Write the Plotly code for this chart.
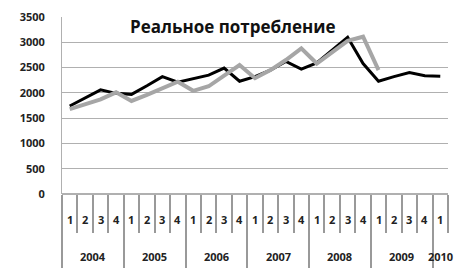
import plotly.graph_objects as go

years = ["2004", "2005", "2006", "2007", "2008", "2009", "2010"]
quarters_per_year = [4, 4, 4, 4, 4, 4, 1]
quarter_labels = ["1", "2", "3", "4"]

black_values = [1740, 1900, 2060, 1990, 1970, 2140, 2320, 2210, 2280, 2350,
                2490, 2230, 2320, 2450, 2620, 2470, 2590, 2850, 3100, 2580,
                2230, 2320, 2400, 2340, 2330]
gray_values = [1680, 1770, 1870, 2010, 1840, 1960, 2100, 2220, 2040, 2130,
               2340, 2550, 2290, 2450, 2650, 2880, 2580, 2800, 3030, 3110,
               2450, None, None, None, None]

title_text = "Реальное потребление"
y_ticks = [0, 500, 1000, 1500, 2000, 2500, 3000, 3500]

# category index positions built from the year/quarter structure
q_text = []
year_centers = []
year_starts = []
pos = 0
for y, n in zip(years, quarters_per_year):
    year_starts.append(pos - 0.5)
    year_centers.append(pos + (n - 1) / 2)
    q_text.extend(quarter_labels[:n])
    pos += n
n_cat = pos
x_idx = list(range(n_cat))
boundaries = [i - 0.5 for i in range(n_cat + 1)]
xr = [-0.5, n_cat - 0.5]

grid_col = "#b0b0b0"
sep_col = "#999999"
font_family = "Open Sans, DejaVu Sans, sans-serif"
tick_font = dict(family=font_family, size=11, color="#222222", weight="bold")

plot_h = 177.0
quarter_label_y = -25 / plot_h
year_label_y = -62 / plot_h

fig = go.Figure()
fig.add_trace(go.Scatter(x=x_idx, y=black_values, mode="lines",
                         line=dict(color="#000000", width=3), name="black",
                         xaxis="x"))
fig.add_trace(go.Scatter(x=x_idx, y=gray_values, mode="lines",
                         line=dict(color="#a6a6a6", width=4), name="gray",
                         connectgaps=False, xaxis="x2"))

annotations = [dict(text="<b>" + title_text + "</b>", xref="paper",
                    yref="paper", x=0.443, y=0.949, xanchor="center",
                    yanchor="middle", showarrow=False,
                    font=dict(family=font_family, size=17, color="#111111"))]
for qt, xc in zip(q_text, x_idx):
    annotations.append(dict(text=qt, xref="x", yref="paper", x=xc,
                            y=quarter_label_y, xanchor="center",
                            yanchor="middle", showarrow=False,
                            font=tick_font))
for yl, xc in zip(years, year_centers):
    annotations.append(dict(text=yl, xref="x", yref="paper", x=xc,
                            y=year_label_y, xanchor="center",
                            yanchor="middle", showarrow=False,
                            font=tick_font))

fig.update_layout(
    width=458, height=268,
    margin=dict(l=54, r=18, t=9, b=82),
    paper_bgcolor="white", plot_bgcolor="white",
    showlegend=False,
    font=dict(family=font_family, size=11, color="#222222"),
    xaxis=dict(range=xr, tickvals=boundaries,
               ticktext=[""] * len(boundaries), ticks="outside", ticklen=38,
               tickcolor=sep_col, tickwidth=1.5, showticklabels=True,
               showgrid=False, zeroline=False, showline=False,
               automargin=False),
    xaxis2=dict(range=xr, overlaying="x", anchor="y", side="bottom",
                tickvals=year_starts, ticktext=[""] * len(year_starts),
                ticks="outside", ticklen=73, tickcolor=sep_col, tickwidth=1.5,
                showgrid=False, zeroline=False, showline=False,
                automargin=False),
    yaxis=dict(range=[0, 3500], tickvals=y_ticks, showgrid=True,
               gridcolor=grid_col, gridwidth=1, showline=True,
               linecolor=grid_col, linewidth=1, zeroline=True,
               zerolinecolor=grid_col, ticks="", ticklabelstandoff=14,
               tickfont=tick_font, automargin=False),
    annotations=annotations,
)
fig.write_html("out.html")
